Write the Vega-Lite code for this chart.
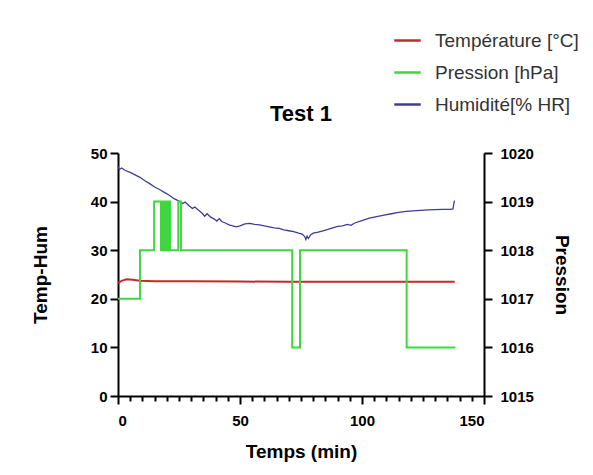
{
  "$schema": "https://vega.github.io/schema/vega-lite/v6.json",
  "autosize": "none",
  "width": 366,
  "height": 243,
  "padding": {"left": 118, "top": 153, "right": 109, "bottom": 79},
  "background": "white",
  "title": {"text": "Test 1", "fontSize": 22, "font": "Liberation Sans", "fontWeight": "bold", "color": "black", "anchor": "middle", "offset": -117, "baseline": "alphabetic"},
  "datasets": {
    "temp": [
      {"t": 0, "v": 23.3}, {"t": 1.5, "v": 23.7}, {"t": 3.5, "v": 24.0}, {"t": 6, "v": 23.9},
      {"t": 9, "v": 23.7}, {"t": 15, "v": 23.6}, {"t": 30, "v": 23.6}, {"t": 50, "v": 23.55},
      {"t": 70, "v": 23.5}, {"t": 90, "v": 23.5}, {"t": 110, "v": 23.5}, {"t": 125, "v": 23.5}, {"t": 138, "v": 23.5}
    ],
    "hum": [
      {"t": 0, "v": 47.2}, {"t": 0.5, "v": 46.6}, {"t": 1.5, "v": 46.9}, {"t": 3, "v": 46.4},
      {"t": 5, "v": 46.0}, {"t": 7, "v": 45.5}, {"t": 9, "v": 45.0}, {"t": 11, "v": 44.3},
      {"t": 13, "v": 43.7}, {"t": 15, "v": 43.0}, {"t": 17, "v": 42.5}, {"t": 19, "v": 41.9},
      {"t": 21, "v": 41.3}, {"t": 23, "v": 40.6}, {"t": 25, "v": 40.1}, {"t": 26.5, "v": 39.6},
      {"t": 27.5, "v": 39.9}, {"t": 29, "v": 39.2}, {"t": 30.5, "v": 38.6}, {"t": 31.5, "v": 38.9},
      {"t": 33, "v": 38.2}, {"t": 34.5, "v": 37.6}, {"t": 35.5, "v": 37.0}, {"t": 36.5, "v": 37.5},
      {"t": 38, "v": 36.8}, {"t": 39.5, "v": 36.4}, {"t": 40.5, "v": 36.0}, {"t": 41.5, "v": 36.5},
      {"t": 42.5, "v": 35.9}, {"t": 44, "v": 35.6}, {"t": 45.5, "v": 35.2}, {"t": 47, "v": 35.0},
      {"t": 48.5, "v": 34.8}, {"t": 50, "v": 35.0}, {"t": 52, "v": 35.4}, {"t": 54, "v": 35.5},
      {"t": 56, "v": 35.3}, {"t": 58, "v": 35.2}, {"t": 60, "v": 35.0}, {"t": 62, "v": 34.8},
      {"t": 64, "v": 34.6}, {"t": 66, "v": 34.5}, {"t": 68, "v": 34.2}, {"t": 70, "v": 34.0},
      {"t": 72, "v": 33.8}, {"t": 74, "v": 33.5}, {"t": 75.5, "v": 33.3}, {"t": 76.5, "v": 32.8},
      {"t": 77, "v": 32.2}, {"t": 77.5, "v": 32.9}, {"t": 78, "v": 32.4}, {"t": 79, "v": 33.2},
      {"t": 80, "v": 33.5}, {"t": 82, "v": 33.7}, {"t": 84, "v": 34.0}, {"t": 86, "v": 34.3},
      {"t": 88, "v": 34.6}, {"t": 90, "v": 34.9}, {"t": 92, "v": 35.0}, {"t": 94, "v": 35.3},
      {"t": 95.5, "v": 35.1}, {"t": 97, "v": 35.6}, {"t": 100, "v": 36.1}, {"t": 103, "v": 36.6},
      {"t": 106, "v": 36.9}, {"t": 109, "v": 37.2}, {"t": 112, "v": 37.5}, {"t": 115, "v": 37.8},
      {"t": 118, "v": 38.0}, {"t": 121, "v": 38.1}, {"t": 124, "v": 38.2}, {"t": 127, "v": 38.3},
      {"t": 130, "v": 38.35}, {"t": 133, "v": 38.4}, {"t": 136, "v": 38.4}, {"t": 137.3, "v": 38.5},
      {"t": 137.6, "v": 39.5}, {"t": 137.9, "v": 40.2}
    ],
    "pres": [
      {"t": 0, "v": 1017}, {"t": 9.0, "v": 1018}, {"t": 14.8, "v": 1019}, {"t": 17.6, "v": 1018},
      {"t": 18.3, "v": 1019}, {"t": 18.8, "v": 1018}, {"t": 19.2, "v": 1019}, {"t": 19.7, "v": 1018},
      {"t": 20.1, "v": 1019}, {"t": 20.6, "v": 1018}, {"t": 20.9, "v": 1019}, {"t": 21.3, "v": 1018},
      {"t": 24.7, "v": 1019}, {"t": 25.8, "v": 1018}, {"t": 71.4, "v": 1016}, {"t": 74.6, "v": 1018},
      {"t": 118.3, "v": 1016}, {"t": 138.3, "v": 1016}
    ]
  },
  "config": {
    "view": {"stroke": null},
    "font": "Liberation Sans",
    "axis": {
      "grid": false,
      "domainColor": "black",
      "domainWidth": 2,
      "tickColor": "black",
      "tickWidth": 2,
      "tickSize": 8,
      "labelColor": "black",
      "labelFont": "Liberation Sans",
      "labelFontWeight": "bold",
      "labelFontSize": 15,
      "titleColor": "black",
      "titleFont": "Liberation Sans",
      "titleFontWeight": "bold",
      "titleFontSize": 19,
      "labelOverlap": false
    },
    "legend": {
      "orient": "none",
      "legendX": 275,
      "legendY": -127,
      "labelFont": "Liberation Sans",
      "labelFontSize": 19,
      "labelColor": "#333333",
      "symbolType": "stroke",
      "symbolSize": 700,
      "symbolStrokeWidth": 2.5,
      "labelOffset": 13,
      "rowPadding": 7
    }
  },
  "encoding": {
    "x": {
      "field": "t", "type": "quantitative",
      "scale": {"domain": [0, 150], "nice": false, "zero": false},
      "axis": {
        "title": "Temps (min)",
        "values": [0,5,10,15,20,25,30,35,40,45,50,55,60,65,70,75,80,85,90,95,100,105,110,115,120,125,130,135,140,145,150],
        "labelExpr": "datum.value % 50 === 0 ? datum.label : ''",
        "tickSize": {"condition": {"test": "datum.value % 50 === 0", "value": 8}, "value": 5},
        "labelPadding": 9,
        "titlePadding": 14
      }
    },
    "color": {
      "field": "s", "type": "nominal",
      "scale": {
        "domain": ["Température [°C]", "Pression [hPa]", "Humidité[% HR]"],
        "range": ["#c42a2a", "#3fd63f", "#3d3d9a"]
      },
      "legend": {"title": null}
    }
  },
  "layer": [
    {
      "layer": [
        {
          "data": {"name": "temp"},
          "transform": [{"calculate": "'Température [°C]'", "as": "s"}],
          "mark": {"type": "line", "strokeWidth": 2},
          "encoding": {
            "y": {
              "field": "v", "type": "quantitative",
              "scale": {"domain": [0, 50], "nice": false},
              "axis": {"title": "Temp-Hum", "values": [0,10,20,30,40,50], "labelPadding": 3, "titlePadding": 40}
            }
          }
        },
        {
          "data": {"name": "hum"},
          "transform": [{"calculate": "'Humidité[% HR]'", "as": "s"}],
          "mark": {"type": "line", "strokeWidth": 1.3},
          "encoding": {
            "y": {"field": "v", "type": "quantitative", "scale": {"domain": [0, 50], "nice": false}, "axis": {"title": "Temp-Hum", "values": [0,10,20,30,40,50], "labelPadding": 3, "titlePadding": 40}}
          }
        }
      ]
    },
    {
      "data": {"name": "pres"},
      "transform": [{"calculate": "'Pression [hPa]'", "as": "s"}],
      "mark": {"type": "line", "strokeWidth": 2, "interpolate": "step-after"},
      "encoding": {
        "y": {
          "field": "v", "type": "quantitative",
          "scale": {"domain": [1015, 1020], "nice": false, "zero": false},
          "axis": {"orient": "right", "title": "Pression", "values": [1015,1016,1017,1018,1019,1020], "format": "d", "labelPadding": 8, "titlePadding": 18}
        }
      }
    }
  ],
  "resolve": {"scale": {"y": "independent"}}
}
